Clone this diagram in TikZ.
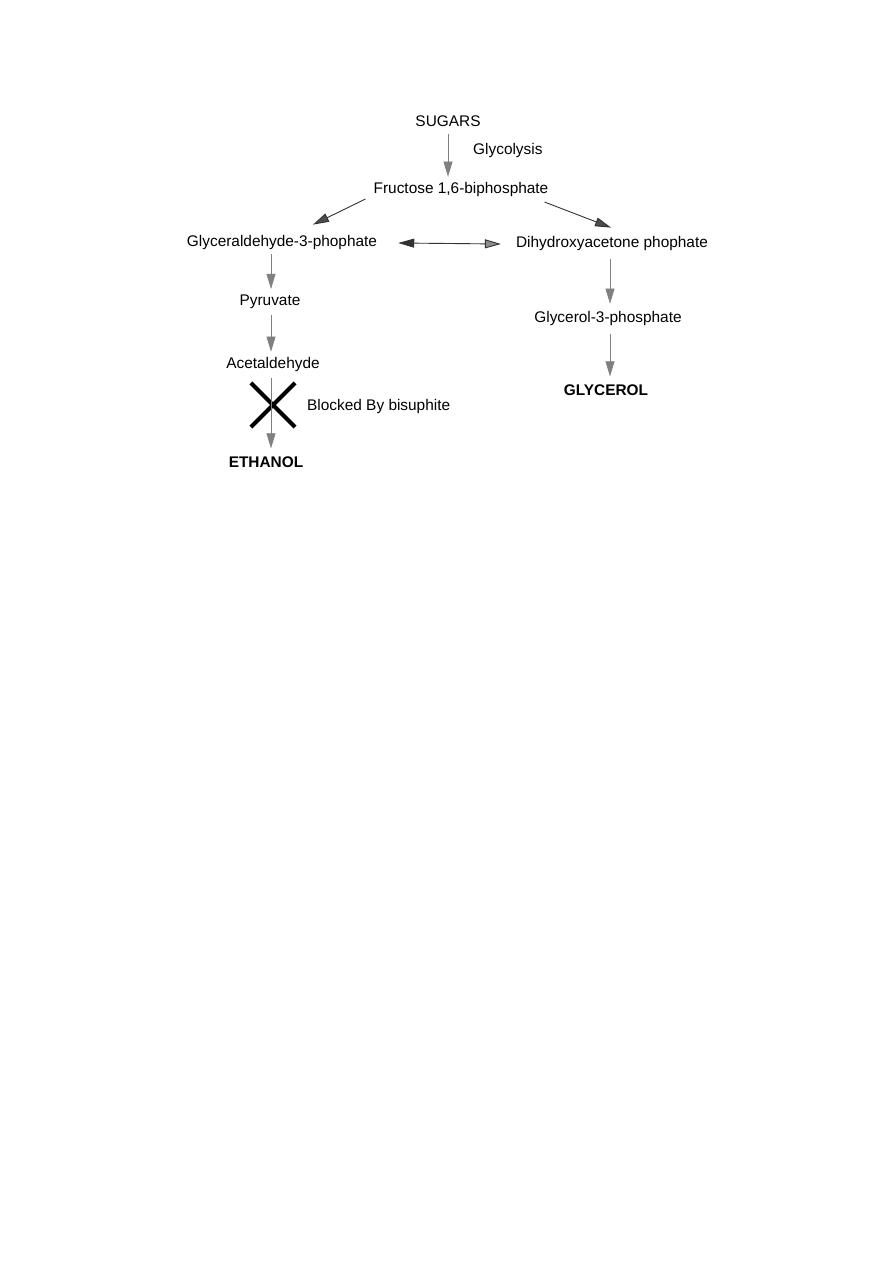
\documentclass[tikz,border=0pt]{standalone}
\usepackage{fontspec}
\setmainfont{Liberation Sans}
\usetikzlibrary{positioning,arrows.meta,shapes.misc}
\tikzset{
  chem/.style={inner sep=0pt, font=\fontsize{15.4}{18}\selectfont},
  chemb/.style={chem, font=\fontsize{15.4}{18}\selectfont\bfseries},
  flow/.style={-{Triangle[length=15pt,width=9pt,fill=black!50]}, line width=0.6pt,
    draw=black!50},
  dflow/.style={-{Triangle[length=16pt,width=9pt,fill=black!70]}, line width=0.9pt,
    draw=black!80},
  blockx/.style={cross out, draw=black, line width=4.2pt, minimum size=40pt,
    inner sep=0pt},
}
\begin{document}
\begin{tikzpicture}[x=1pt,y=-1pt]
    \useasboundingbox (0,0) rectangle (893,1263);
    \node[chem] (sugars) at (448,121) {SUGARS};
    \node[chem] (fructose) at (461,190) {Fructose 1,6-biphosphate};
    \node[chem] (glyald) at (282,243) {Glyceraldehyde-3-phophate};
    \node[chem] (dhap) at (612,244) {Dihydroxyacetone phophate};
    \node[chem] (pyruvate) at (270,302) {Pyruvate};
    \node[chem] (acetal) at (273,365) {Acetaldehyde};
    \node[chemb] (ethanol) at (266,462) {ETHANOL};
    \node[chem] (g3p) at (608,319) {Glycerol-3-phosphate};
    \node[chemb] (glycerol) at (606,390) {GLYCEROL};
    \node[blockx] (block) at (273,405) {};
    % side labels
    \node[chem, anchor=west] (glycolysis) at (473,151) {Glycolysis};
    \node[chem, anchor=west] (blocked) at (307,407) {Blocked By bisuphite};

    \draw[flow, shorten <=7pt, shorten >=6pt] (sugars.south) -- (sugars.south |- fructose.north);
    \draw[dflow] ([shift={(-8,9)}]fructose.west) -- ([shift={(31,-11)}]glyald.north);
    \draw[dflow] ([shift={(-4,12)}]fructose.east) -- ([shift={(-1,-9)}]dhap.north);
    \draw[dflow, {Triangle[length=16pt,width=9pt,fill=black!80]}-{Triangle[length=16pt,width=9pt,fill=black!45]}]
      ([xshift=21pt]glyald.east) -- ([xshift=-15pt]dhap.west);
    \draw[flow, shorten <=6pt, shorten >=6pt] (pyruvate.north -| 271,0) ++(0,-47) -- (pyruvate.north -| 271,0);
    \draw[flow, shorten <=6pt, shorten >=6pt] (pyruvate.south -| 271,0) -- (acetal.north -| 271,0);
    \draw[flow, shorten <=6pt, shorten >=8pt] (acetal.south -| 271,0) -- (ethanol.north -| 271,0);
    \draw[flow, shorten <=8pt, shorten >=8pt] (dhap.south -| 610,0) -- (g3p.north -| 610,0);
    \draw[flow, shorten <=8pt, shorten >=8pt] (g3p.south -| 610,0) -- (glycerol.north -| 610,0);
\end{tikzpicture}
\end{document}
